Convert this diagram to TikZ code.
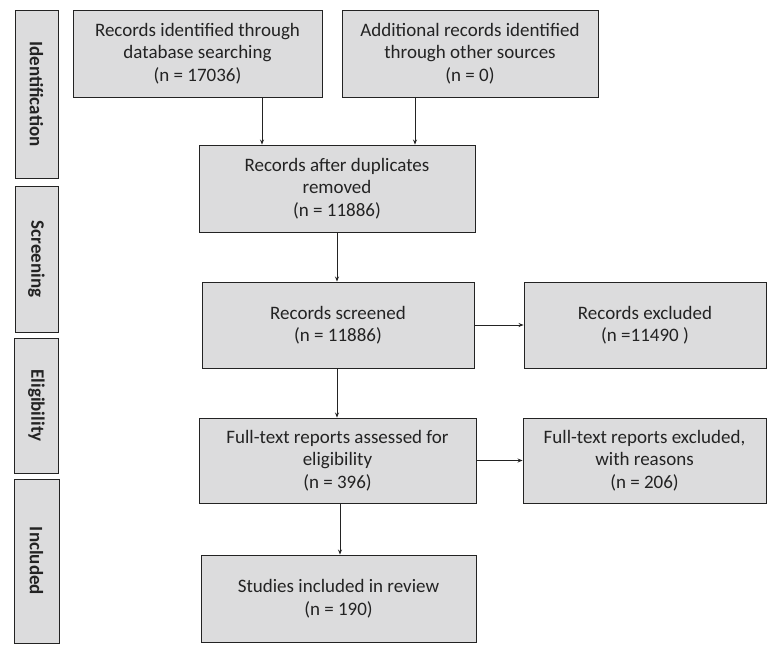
\documentclass[tikz,border=0pt]{standalone}
\usepackage{fontspec}
\setmainfont{Carlito}
\usetikzlibrary{arrows.meta}
\definecolor{boxfill}{RGB}{220,220,221}
\definecolor{ink}{RGB}{35,35,35}
\tikzset{
  box/.style={draw=ink, line width=0.9pt, fill=boxfill, align=center, inner sep=2pt,
    font=\fontsize{19}{22.5}\selectfont, text=ink},
  phase/.style={box, rotate=-90, font=\fontsize{19}{22.5}\selectfont\bfseries},
  arr/.style={draw=ink, line width=0.9pt, -{Stealth[length=5pt,width=4pt]}}
}
\begin{document}
\begin{tikzpicture}[x=1pt,y=-1pt]
\useasboundingbox[fill=white] (0,0) rectangle (773,654);
% phase labels
\node[phase, minimum width=168pt, minimum height=43pt] (pid) at (36.5,94) {Identification};
\node[phase, minimum width=146pt, minimum height=43pt] (psc) at (36.5,259) {Screening};
\node[phase, minimum width=135pt, minimum height=44pt] (pel) at (36.5,405.5) {Eligibility};
\node[phase, minimum width=164pt, minimum height=45pt] (pin) at (36.5,561) {Included};
% boxes
\node[box, minimum width=249pt, minimum height=87pt] (b1) at (197.5,53.5) {Records identified through\\database searching\\(n = 17036)};
\node[box, minimum width=256pt, minimum height=87pt] (b2) at (470,53.5) {Additional records identified\\through other sources\\(n = 0)};
\node[box, minimum width=276pt, minimum height=87pt] (b3) at (337,188.5) {Records after duplicates\\removed\\(n = 11886)};
\node[box, minimum width=272pt, minimum height=86pt] (b4) at (338,325) {Records screened\\(n = 11886)};
\node[box, minimum width=242pt, minimum height=86pt] (b5) at (645,325) {Records excluded\\(n =11490 )};
\node[box, minimum width=277pt, minimum height=85pt] (b6) at (337.5,460.5) {Full-text reports assessed for\\eligibility\\(n = 396)};
\node[box, minimum width=243pt, minimum height=85pt] (b7) at (644.5,460.5) {Full-text reports excluded,\\with reasons\\(n = 206)};
\node[box, minimum width=275pt, minimum height=87pt] (b8) at (338.5,598.5) {Studies included in review\\(n = 190)};
% connector x positions
\coordinate (xa) at (262,0);
\coordinate (xb) at (415,0);
\coordinate (xc) at (337,0);
\coordinate (xd) at (340,0);
\draw[arr] (xa |- b1.south) -- (xa |- b3.north);
\draw[arr] (xb |- b2.south) -- (xb |- b3.north);
\draw[arr] (xc |- b3.south) -- (xc |- b4.north);
\draw[arr] (xc |- b4.south) -- (xc |- b6.north);
\draw[arr] (xd |- b6.south) -- (xd |- b8.north);
\draw[arr] (b4.east) -- (b5.west);
\draw[arr] (b6.east) -- (b7.west);
\end{tikzpicture}
\end{document}
